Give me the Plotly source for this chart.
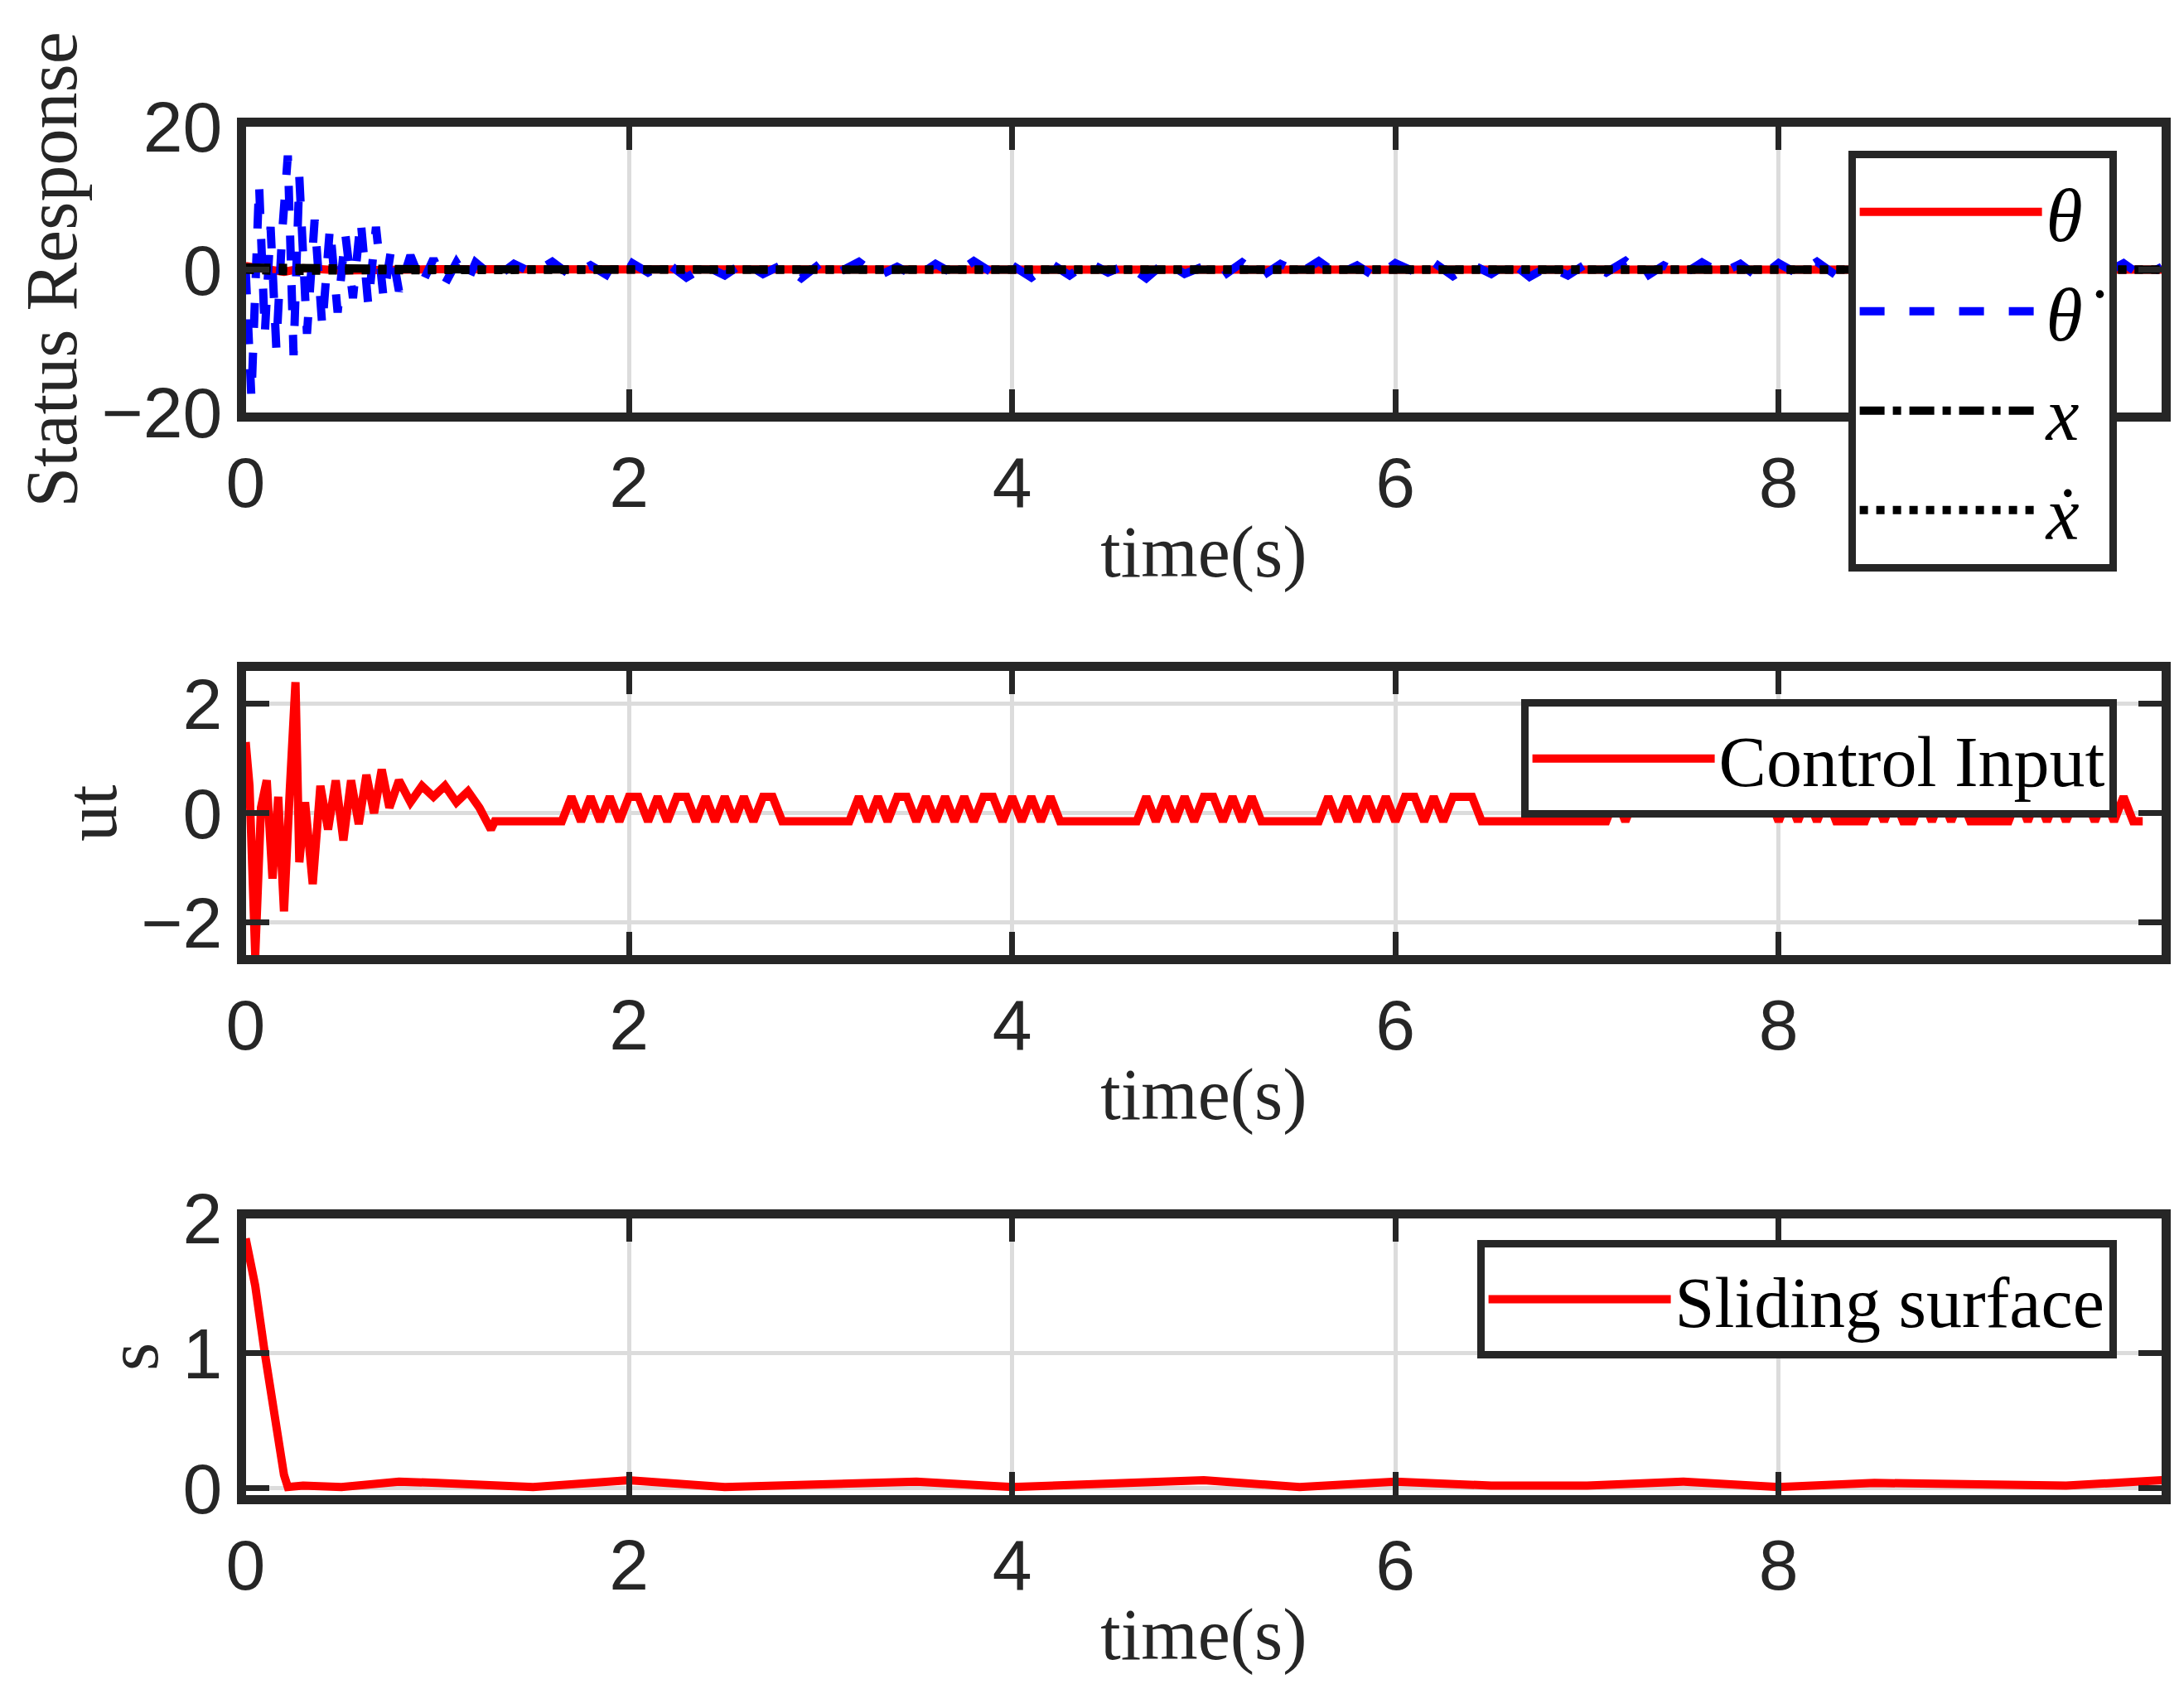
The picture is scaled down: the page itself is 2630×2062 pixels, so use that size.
import numpy as np
import plotly.graph_objects as go

# ---------------- data ----------------
t_early = [0, 0.03, 0.07, 0.10, 0.13, 0.16, 0.19, 0.22, 0.25, 0.28, 0.32, 0.36, 0.40, 0.44,
           0.48, 0.52, 0.56, 0.60, 0.64, 0.68, 0.72, 0.76, 0.80, 0.86, 0.92, 0.98, 1.04, 1.10, 1.16]
thetadot_early = [0, -18, 12, -9, 6, -11, 5, 16, -12, 13, -9, 7, -8, 6, -6, 5, -4, 7, -5, 6,
                  -4, 3, -3, 2, -2, 1.5, -2, 1, -1.5]
t_late = list(np.round(np.arange(1.2, 10.01, 0.1), 2))
thetadot_late = [1.0, -1.2, 0.8, -0.5, 1.1, -0.9, 0.6, -1.0, 1.2, -0.4, 0.9, -1.1, 0.5, -0.8, 1.0,
                 -0.6, 0.7, -1.2, 0.9, -0.3, 1.1, -0.9, 0.4, -1.0, 0.8, -0.7, 1.2, -0.5, 0.6, -1.1,
                 0.9, -0.8, 1.0, -0.4, 0.7, -1.2, 1.1, -0.6, 0.5, -0.9, 1.0, -1.0, 0.8, -0.5, 1.2,
                 -0.7, 0.6, -1.1, 0.9, -0.3, 1.0, -0.9, 0.7, -0.6, 1.1, -1.0, 0.5, -0.8, 0.9, -0.4,
                 1.2, -1.1, 0.6, -0.7, 1.0, -0.5, 0.8, -1.2, 0.9, -0.6, 1.1, -0.8, 0.5, -1.0, 1.0,
                 -0.4, 0.7, -1.1, 1.2, -0.6, 0.8, -0.9, 0.6, -0.7, 1.0, -0.5, 0.9, -1.0, 0.4]
t_theta = [0, 0.1, 0.2, 0.3, 0.5, 1, 2, 4, 6, 8, 10]
theta = [0.5, 0.2, -0.3, 0.2, -0.1, 0.05, 0, 0, 0, 0, 0]
t_x = [0, 0.2, 0.5, 1, 2, 4, 6, 8, 10]
x_pos = [0.3, 0.2, 0.1, 0.05, 0.02, 0.0, 0.0, 0.0, 0.0]
xdot = [0, -0.2, -0.1, 0.0, 0.0, 0.0, 0.0, 0.0, 0.0]

t_u_early = [0, 0.02, 0.05, 0.08, 0.11, 0.14, 0.17, 0.20, 0.23, 0.26, 0.28, 0.31, 0.35, 0.39,
             0.43, 0.47, 0.51, 0.55, 0.59, 0.63, 0.67, 0.71, 0.75, 0.80, 0.86, 0.92, 0.98, 1.04,
             1.10, 1.16, 1.22, 1.28]
u_early = [1.3, 0.5, -2.6, 0.1, 0.6, -1.2, 0.3, -1.8, 0.4, 2.4, -0.9, 0.2, -1.3, 0.5, -0.3,
           0.6, -0.5, 0.6, -0.2, 0.7, 0.0, 0.8, 0.1, 0.6, 0.2, 0.5, 0.3, 0.5, 0.2, 0.4, 0.1, -0.3]
t_u_late = list(np.round(np.arange(1.3, 10.01, 0.05), 2))
u_pattern = ("LLLLLLLLHLHLHLHHLHLHHLHLHLHLHHLLLLLLLLHLHLHHLHLHLHLHHLHLHLHLLLLLLLLLHLHLHLH"
             "HLHLHLLLLLLLHLHLHLHLHHLHLHHHLLLLLLLLLLLLLLHLHHHHHHHHHHHHHHHLHLHLHLLLLHLHLLHL"
             "HLHLLLLLHLHLHLHHLHLHLL")
u_late = [0.3 if c == "H" else -0.15 for c in u_pattern]

t_s = [0, 0.05, 0.1, 0.15, 0.2, 0.22, 0.3, 0.5, 0.8, 1.0, 1.5, 2.0, 2.5, 3.0, 3.5, 4.0, 4.5, 5.0,
       5.5, 6.0, 6.5, 7.0, 7.5, 8.0, 8.5, 9.0, 9.5, 10.0]
s_vals = [1.85, 1.5, 1.0, 0.5, 0.1, 0.01, 0.02, 0.01, 0.05, 0.04, 0.01, 0.06, 0.01, 0.03, 0.05,
          0.01, 0.03, 0.06, 0.01, 0.05, 0.02, 0.02, 0.05, 0.01, 0.04, 0.03, 0.02, 0.06]

# ---------------- figure ----------------
fig = go.Figure()
LW = 10
fig.add_trace(go.Scatter(x=t_theta, y=theta, mode="lines", name="<i>θ</i>",
                         line=dict(color="#ff0000", width=LW), legend="legend"))
fig.add_trace(go.Scatter(x=t_early + t_late, y=thetadot_early + thetadot_late, mode="lines",
                         name="<i>θ̇</i>",
                         line=dict(color="#0000ff", width=LW, dash="dash"), legend="legend"))
fig.add_trace(go.Scatter(x=t_x, y=x_pos, mode="lines", name="<i>x</i>",
                         line=dict(color="black", width=LW, dash="dashdot"), legend="legend"))
fig.add_trace(go.Scatter(x=t_x, y=xdot, mode="lines", name="<i>ẋ</i>",
                         line=dict(color="black", width=LW, dash="dot"), legend="legend"))
fig.add_trace(go.Scatter(x=t_u_early + t_u_late, y=u_early + u_late, mode="lines", name="Control Input",
                         line=dict(color="#ff0000", width=LW), xaxis="x2", yaxis="y2",
                         legend="legend2"))
fig.add_trace(go.Scatter(x=t_s, y=s_vals, mode="lines", name="Sliding surface",
                         line=dict(color="#ff0000", width=LW), xaxis="x3", yaxis="y3", legend="legend3"))

serif = "Liberation Serif, DejaVu Serif, serif"
sans = "Liberation Sans, Arial, sans-serif"
ax = dict(showline=True, mirror="ticks", linewidth=11, linecolor="#262626", ticks="inside",
          ticklen=28, tickwidth=7, tickcolor="#262626", showgrid=True, gridcolor="#dcdcdc",
          gridwidth=5, zeroline=False, tickfont=dict(family=sans, size=86, color="#262626"))
xdom = [0.1015, 0.989]
def xa(anchor):
    return dict(ax, domain=xdom, range=[0, 10], tickvals=[0, 2, 4, 6, 8, 10], anchor=anchor,
                title=dict(text="time(s)", font=dict(family=serif, size=88, color="#262626"), standoff=10))
def ya(dom, rng, tv, title, anchor):
    return dict(ax, domain=dom, range=rng, tickvals=tv, anchor=anchor,
                title=dict(text=title, font=dict(family=serif, size=88, color="#262626"), standoff=5))

leg = dict(bgcolor="white", bordercolor="#262626", borderwidth=9, xanchor="right", yanchor="top",
           font=dict(family=serif, size=86, color="black"), itemwidth=220)
fig.update_layout(
    width=2630, height=2062, paper_bgcolor="white", plot_bgcolor="white",
    margin=dict(l=0, r=0, t=0, b=0),
    xaxis=xa("y"), yaxis=ya([0.7753, 0.9505], [-20, 20], [-20, 0, 20], "Status Response", "x"),
    xaxis2=xa("y2"), yaxis2=ya([0.442, 0.6163], [-2.6, 2.6], [-2, 0, 2], "ut", "x2"),
    xaxis3=xa("y3"), yaxis3=ya([0.1104, 0.2804], [-0.05, 2], [0, 1, 2], "s", "x3"),
    legend=dict(leg, x=0.968, y=0.936, tracegroupgap=0,
                font=dict(family=serif, size=90, color="black")),
    legend2=dict(leg, x=0.968, y=0.599),
    legend3=dict(leg, x=0.968, y=0.267),
    showlegend=True,
)
fig.write_html("out.html")
